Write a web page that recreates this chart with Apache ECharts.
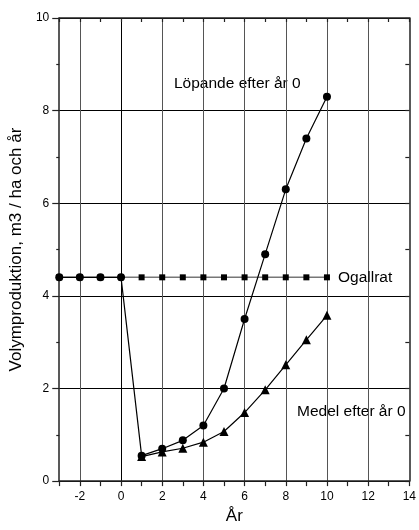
<!DOCTYPE html>
<html>
<head>
<meta charset="utf-8">
<script src="https://cdn.jsdelivr.net/npm/echarts@6/dist/echarts.min.js"></script>
<style>html,body{margin:0;padding:0;background:#fff}#c{width:419px;height:530px}</style>
</head>
<body>
<div id="c"></div>
<script>
const lopandeYears = [-3, -2, -1, 0, 1, 2, 3, 4, 5, 6, 7, 8, 9, 10];
const lopandeValues = [4.4, 4.4, 4.4, 4.4, 0.55, 0.7, 0.88, 1.2, 2.0, 3.5, 4.9, 6.3, 7.4, 8.3];
const medelYears = [1, 2, 3, 4, 5, 6, 7, 8, 9, 10];
const medelValues = [0.53, 0.63, 0.71, 0.84, 1.07, 1.48, 1.97, 2.51, 3.05, 3.58];
const ogallratYears = [-3, -2, -1, 0, 1, 2, 3, 4, 5, 6, 7, 8, 9, 10];
const ogallratValues = [4.4, 4.4, 4.4, 4.4, 4.4, 4.4, 4.4, 4.4, 4.4, 4.4, 4.4, 4.4, 4.4, 4.4];
const xTickLabels = ['-2', '0', '2', '4', '6', '8', '10', '12', '14'];
const yTickLabels = ['0', '2', '4', '6', '8', '10'];

const pairs = (xs, ys) => xs.map((x, i) => [x, ys[i]]);
const font = 'Liberation Sans, Arial, sans-serif';

// vertical grid colours, one per integer from -3 to 14
const vColors = [];
for (let v = -3; v <= 14; v++) {
  if (v === 0) vColors.push('#000');
  else if (v % 2 === 0 && v > -3 && v < 14) vColors.push('#555');
  else vColors.push('rgba(0,0,0,0)');
}

const chart = echarts.init(document.getElementById('c'), null, {renderer: 'canvas'});
chart.setOption({
  animation: false,
  backgroundColor: '#fff',
  grid: {left: 58, right: 6, top: 18, bottom: 47, containLabel: false},
  xAxis: [{
    type: 'value', min: -3, max: 14, interval: 1, position: 'bottom',
    name: 'År', nameLocation: 'middle', nameGap: 22,
    nameTextStyle: {fontFamily: font, fontSize: 17, color: '#000'},
    axisLine: {show: true, onZero: false, lineStyle: {color: '#222', width: 1.5}},
    axisTick: {show: true, inside: false, length: 5, lineStyle: {color: '#222', width: 1.2}},
    axisLabel: {fontFamily: font, fontSize: 12, color: '#000', margin: 10,
      formatter: v => (xTickLabels.indexOf(String(v)) >= 0 ? String(v) : '')},
    splitLine: {show: true, lineStyle: {color: vColors, width: 1}}
  }, {
    type: 'value', min: -3, max: 14, interval: 1, position: 'top',
    axisLine: {show: true, onZero: false, lineStyle: {color: '#222', width: 1.5}},
    axisTick: {show: true, inside: true, length: 4, lineStyle: {color: '#222', width: 1.2}},
    axisLabel: {show: false}, splitLine: {show: false}
  }],
  yAxis: [{
    type: 'value', min: 0, max: 10, interval: 2, position: 'left',
    name: 'Volymproduktion, m3 / ha och år', nameLocation: 'middle', nameGap: 29,
    nameTextStyle: {fontFamily: font, fontSize: 17, color: '#000'},
    axisLine: {show: true, onZero: false, lineStyle: {color: '#222', width: 1.5}},
    axisTick: {show: true, inside: false, length: 7, lineStyle: {color: '#222', width: 1.2}},
    minorTick: {show: true, splitNumber: 2, length: 3, lineStyle: {color: '#222', width: 1.2}},
    axisLabel: {fontFamily: font, fontSize: 12, color: '#000', margin: 10,
      formatter: v => (yTickLabels.indexOf(String(v)) >= 0 ? String(v) : '')},
    splitLine: {show: true, lineStyle: {color: '#000', width: 1}}
  }, {
    type: 'value', min: 0, max: 10, interval: 1, position: 'right',
    axisLine: {show: true, onZero: false, lineStyle: {color: '#222', width: 1.5}},
    axisTick: {show: true, inside: true, length: 4, lineStyle: {color: '#222', width: 1.2}},
    axisLabel: {show: false}, splitLine: {show: false}
  }],
  series: [{
    name: 'Ogallrat', type: 'line', xAxisIndex: 0, yAxisIndex: 0,
    data: pairs(ogallratYears, ogallratValues),
    symbol: 'rect', symbolSize: 6, showAllSymbol: true,
    itemStyle: {color: '#000'},
    lineStyle: {color: '#777', width: 1.5},
    endLabel: {show: true, formatter: 'Ogallrat', fontFamily: font, fontSize: 15.5, color: '#000', distance: 11}
  }, {
    name: 'Medel efter år 0', type: 'line', xAxisIndex: 0, yAxisIndex: 0,
    data: pairs(medelYears, medelValues),
    symbol: 'triangle', symbolSize: 9, showAllSymbol: true,
    itemStyle: {color: '#000'},
    lineStyle: {color: '#000', width: 1.2}
  }, {
    name: 'Löpande efter år 0', type: 'line', xAxisIndex: 0, yAxisIndex: 0,
    data: pairs(lopandeYears, lopandeValues),
    symbol: 'circle', symbolSize: 8, showAllSymbol: true,
    itemStyle: {color: '#000'},
    lineStyle: {color: '#000', width: 1.2}
  }],
  graphic: [{
    type: 'text', left: 174, top: 76,
    style: {text: 'Löpande efter år 0', font: '15.5px ' + font, fill: '#000'}
  }, {
    type: 'text', left: 297, top: 404,
    style: {text: 'Medel efter år 0', font: '15.5px ' + font, fill: '#000'}
  }]
});
</script>
</body>
</html>
